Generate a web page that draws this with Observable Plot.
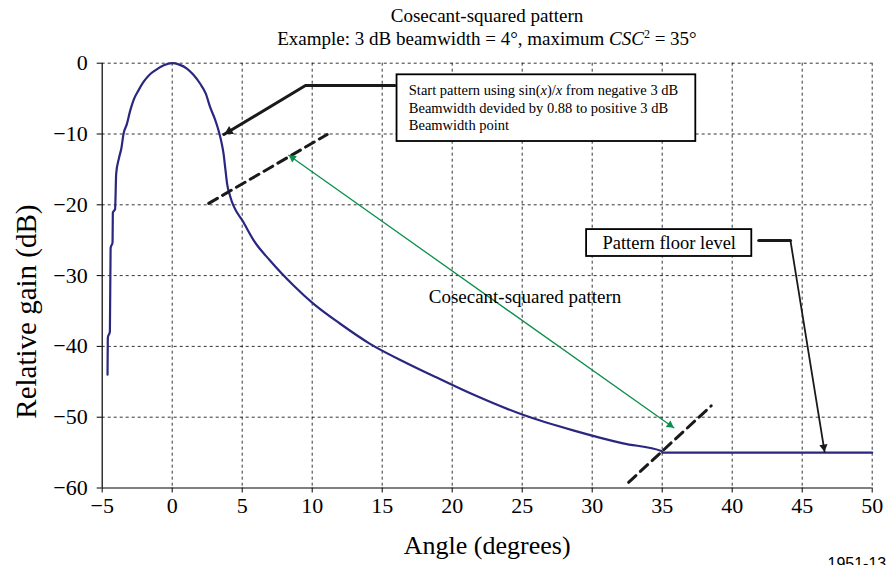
<!DOCTYPE html>
<html>
<head>
<meta charset="utf-8">
<script src="https://cdn.jsdelivr.net/npm/d3@7"></script>
<script src="https://cdn.jsdelivr.net/npm/@observablehq/plot@0.6"></script>
<style>
  body { margin: 0; background: #fff; }
  #chart { width: 889px; height: 565px; font-family: "Liberation Serif", "Times New Roman", serif; color: #000; }
  #head { position: relative; height: 46px; }
  #head div { position: absolute; left: 102px; width: 770px; text-align: center; font-size: 19px; line-height: 20px; white-space: nowrap; }
  #head sup { font-size: 12px; line-height: 0; vertical-align: 0.6em; }
  svg { display: block; }
</style>
</head>
<body>
<div id="chart">
  <div id="head">
    <div style="top:6px">Cosecant-squared pattern</div>
    <div style="top:29px">Example: 3 dB beamwidth = 4°, maximum <i>CSC</i><sup>2</sup> = 35°</div>
  </div>
</div>
<script>
// Antenna elevation pattern: sin(x)/x main lobe, cosecant-squared skirt, flat floor
const angle = [-4.62, -4.60, -4.45, -4.40, -4.26, -4.24, -4.08, -4.00, -3.80, -3.62, -3.48, -3.24, -3.00, -2.76, -2.40, -2.05, -1.60, -1.21, -0.60, 0.00,
               0.50, 1.05, 1.50, 2.00, 2.40, 2.71, 3.05, 3.31, 3.50, 3.67, 3.80, 3.92, 4.14, 5.10, 5.81, 7.00, 8.67,
               10.1, 12.0, 14.1, 16.8, 18.9, 21.5, 25.1, 28.7, 32.2, 34.98, 35.0, 50.0];
const gain  = [-44.0, -38.8, -37.9, -26.1, -25.3, -21.1, -20.6, -15.6, -13.4, -11.9, -10.0, -8.6, -6.7, -5.2, -3.8, -2.65, -1.6, -1.0, -0.3, 0.0,
               -0.2, -0.75, -1.6, -2.9, -4.3, -6.2, -7.9, -9.5, -11.0, -12.8, -15.0, -17.0, -18.8, -22.5, -25.0, -27.9, -31.4,
               -34.0, -36.8, -39.6, -42.4, -44.4, -46.8, -49.7, -51.9, -53.7, -54.8, -55.0, -55.0];

const xTicks = [-5, 0, 5, 10, 15, 20, 25, 30, 35, 40, 45, 50];
const yTicks = [-60, -50, -40, -30, -20, -10, 0];

// annotation geometry, in data units (degrees, dB)
const startBox    = {x1: 16.06, x2: 37.4, y1: -1.64, y2: -11.06};
const startLeader = [[15.9, -3.15], [9.52, -3.15], [3.69, -10.07]];
const startText   = "Start pattern using sin(x)/x from negative 3 dB\nBeamwidth devided by 0.88 to positive 3 dB\nBeamwidth point";
const startTextAt = [16.9, -6.2];
const lobeCut     = [[2.61, -19.8], [11.07, -10.07]];
const floorCut    = [[32.6, -59.2], [38.5, -48.4]];
const cscArrow    = [[8.33, -13.0], [35.83, -51.5]];
const cscLabel    = {x: 25.2, y: -32.95, text: "Cosecant-squared pattern"};
const floorBox    = {x1: 29.6, x2: 41.4, y1: -23.5, y2: -27.3};
const floorLabel  = {x: 35.5, y: -25.4, text: "Pattern floor level"};
const floorBar    = [[41.9, -25.04], [44.16, -25.04]];
const floorLeader = [[44.16, -25.04], [46.6, -54.9]];

const serif = "'Liberation Serif', 'Times New Roman', serif";
const sans = "'Liberation Sans', Arial, sans-serif";

const W = 889, H = 519;
const M = {top: 16.7, right: 17.3, bottom: 77.5, left: 101.7};

const curve = angle.map((a, i) => ({x: a, y: gain[i]}));
const pts = (arr) => arr.map(([x, y]) => ({x, y}));

// same scales as the plot, used to orient the arrowheads on screen
const sx = Plot.scale({x: {domain: [-5, 50], range: [M.left, W - M.right]}});
const sy = Plot.scale({y: {domain: [-60, 0], range: [H - M.bottom, M.top]}});
function head(from, to, r) {
  const x0 = sx.apply(from[0]), y0 = sy.apply(from[1]);
  const x1 = sx.apply(to[0]), y1 = sy.apply(to[1]);
  const len = Math.hypot(x1 - x0, y1 - y0), ux = (x1 - x0) / len, uy = (y1 - y0) / len;
  const k = Math.sqrt(Math.PI * r * r / (3 * Math.sqrt(3))) * 2; // centroid-to-tip distance
  return {x: sx.invert(x1 - ux * k), y: sy.invert(y1 - uy * k), rotate: Math.atan2(ux, -uy) * 180 / Math.PI, r};
}
const minus = d => d < 0 ? "\u2212" + Math.abs(d) : String(d);

const heads = [
  {...head(cscArrow[1], cscArrow[0], 3), fill: "#0b8f4c"},
  {...head(cscArrow[0], cscArrow[1], 3), fill: "#0b8f4c"},
  {...head(startLeader[1], startLeader[2], 4), fill: "#1a1a1a"},
  {...head(floorLeader[0], floorLeader[1], 3.2), fill: "#1a1a1a"}
];

const chart = Plot.plot({
  width: W, height: H,
  marginTop: M.top, marginRight: M.right, marginBottom: M.bottom, marginLeft: M.left,
  x: {domain: [-5, 50]},
  y: {domain: [-60, 0]},
  style: {fontFamily: serif, background: "#fff", color: "#000"},
  marks: [
    Plot.gridX(xTicks.filter(d => d > -5), {stroke: "#000", strokeOpacity: 0.8, strokeDasharray: "3,3"}),
    Plot.gridY(yTicks.filter(d => d > -60), {stroke: "#000", strokeOpacity: 0.8, strokeDasharray: "3,3"}),
    Plot.ruleX([-5], {stroke: "#000", strokeWidth: 1.2}),
    Plot.ruleY([-60], {stroke: "#000", strokeWidth: 1.2}),
    Plot.axisX(xTicks, {tickSize: 5, tickPadding: 4, fontSize: 22, fontFamily: serif, tickFormat: minus, label: null}),
    Plot.axisY(yTicks, {tickSize: 5, tickPadding: 9.5, fontSize: 22, fontFamily: serif, tickFormat: minus, label: null}),
    Plot.text(["Relative gain (dB)"], {frameAnchor: "left", textAnchor: "middle", rotate: -90, dx: -75, dy: 36, fontSize: 29, fontFamily: serif}),
    Plot.text(["Angle (degrees)"], {frameAnchor: "bottom", textAnchor: "middle", dy: 66, fontSize: 26, fontFamily: serif}),
    Plot.text(["1951-13"], {frameAnchor: "bottom-right", textAnchor: "end", lineAnchor: "top", dx: 14, dy: 69.5,
                            fontSize: 16, fontFamily: sans}),

    Plot.line(curve, {x: "x", y: "y", curve: "monotone-x", stroke: "#29277f", strokeWidth: 2.2}),

    Plot.line(pts(lobeCut), {x: "x", y: "y", stroke: "#1a1a1a", strokeWidth: 3, strokeDasharray: "10,6"}),
    Plot.line(pts(floorCut), {x: "x", y: "y", stroke: "#1a1a1a", strokeWidth: 3, strokeDasharray: "10,6"}),

    Plot.line(pts(cscArrow), {x: "x", y: "y", stroke: "#0b8f4c", strokeWidth: 1.3}),
    Plot.text([cscLabel], {x: "x", y: "y", text: "text", fontSize: 19, fontFamily: serif}),

    Plot.line(pts(startLeader), {x: "x", y: "y", stroke: "#1a1a1a", strokeWidth: 3}),
    Plot.rect([startBox], {x1: "x1", x2: "x2", y1: "y1", y2: "y2", fill: "#fff", stroke: "#000", strokeWidth: 1.8}),
    Plot.text([startText], {x: startTextAt[0], y: startTextAt[1], textAnchor: "start", lineHeight: 1.22, fontSize: 14.5, fontFamily: serif}),

    Plot.line(pts(floorBar), {x: "x", y: "y", stroke: "#1a1a1a", strokeWidth: 3.2}),
    Plot.line(pts(floorLeader), {x: "x", y: "y", stroke: "#1a1a1a", strokeWidth: 1.8}),
    Plot.rect([floorBox], {x1: "x1", x2: "x2", y1: "y1", y2: "y2", fill: "#fff", stroke: "#000", strokeWidth: 1.8}),
    Plot.text([floorLabel], {x: "x", y: "y", text: "text", fontSize: 18.5, fontFamily: serif}),

    Plot.dot(heads, {x: "x", y: "y", r: "r", rotate: "rotate", fill: "fill", symbol: "triangle", stroke: null})
  ]
});

// italicize the variable in sin(x)/x
chart.querySelectorAll("tspan").forEach(t => {
  if (t.textContent.includes("sin(x)/x")) {
    t.innerHTML = t.textContent.replace("sin(x)/x", 'sin(<tspan font-style="italic">x</tspan>)/<tspan font-style="italic">x</tspan>');
  }
});

document.getElementById("chart").appendChild(chart);
</script>
</body>
</html>
